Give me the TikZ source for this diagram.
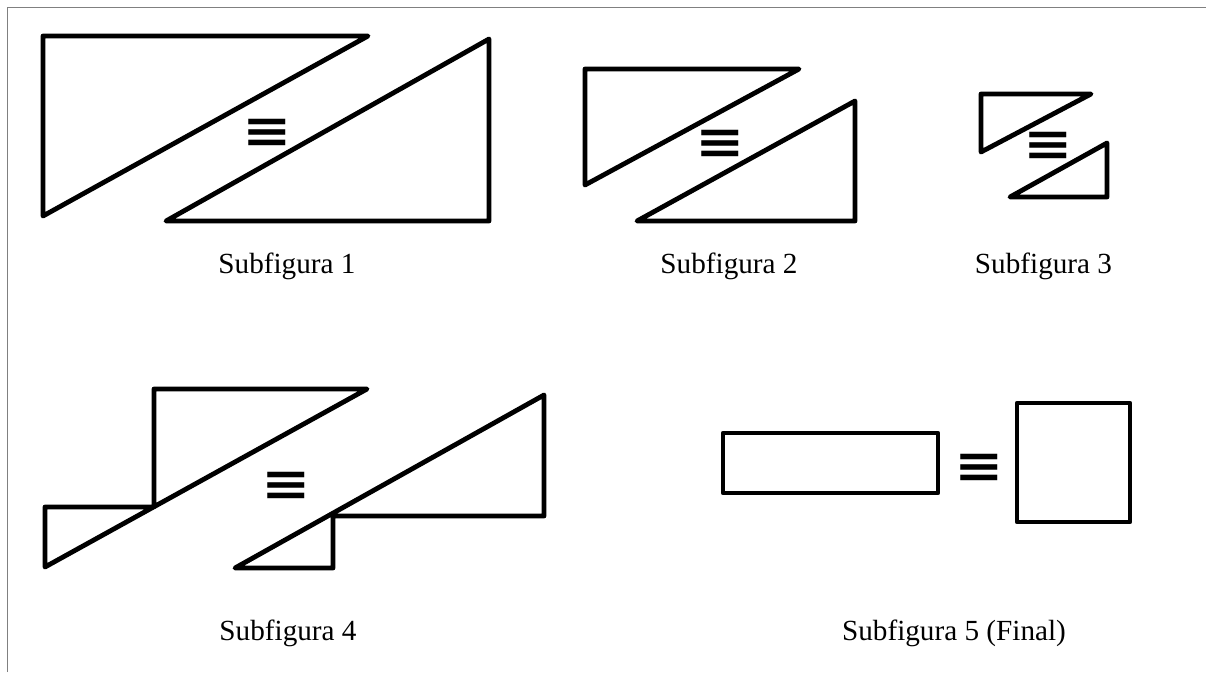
\documentclass[tikz,border=0pt]{standalone}
\usepackage{fontspec}
\setmainfont{Liberation Serif}
\newfontfamily\symfont{DejaVu Sans}

\begin{document}
\begin{tikzpicture}[x=1pt,y=-1pt,
  piece/.style={line width=4.8pt,line join=round,line cap=round},
  caption/.style={font=\fontsize{29.2}{35}\selectfont,anchor=base},
  equivsign/.style={font=\symfont\bfseries\fontsize{48}{48}\selectfont,inner sep=0pt,yshift=-2pt}]
  \useasboundingbox (0,0) rectangle (1206,672);
  \draw[gray,line width=1pt] (7,672) -- (7,7) -- (1206,7);

  \draw[piece] (43,36) -- (368,36) -- (43,216) -- cycle;
  \draw[piece] (489,39) -- (489,221) -- (166,221) -- cycle;
  \node[equivsign] (eq1) at (267,131) {\scalebox{1.23}[1]{≡}};
  \node[caption] (cap1) at (287,273) {Subfigura 1};

  \draw[piece] (585,69) -- (799,69) -- (585,185) -- cycle;
  \draw[piece] (855,101) -- (855,221) -- (637,221) -- cycle;
  \node[equivsign] (eq2) at (720,142) {\scalebox{1.23}[1]{≡}};
  \node[caption] (cap2) at (729,273) {Subfigura 2};

  \draw[piece] (981,94) -- (1091,94) -- (981,152) -- cycle;
  \draw[piece] (1107,143) -- (1107,197) -- (1010,197) -- cycle;
  \node[equivsign] (eq3) at (1048,144) {\scalebox{1.23}[1]{≡}};
  \node[caption] (cap3) at (1043.5,273) {Subfigura 3};

  \draw[piece] (154,389) -- (367,389) -- (45,567) -- (45,507) -- (154,507) -- cycle;
  \draw[piece] (544,395) -- (544,516) -- (333,516) -- (333,568) -- (235,568) -- cycle;
  \node[equivsign] (eq4) at (286.5,484) {\scalebox{1.23}[1]{≡}};
  \node[caption] (cap4) at (288,640) {Subfigura 4};

  \draw[piece] (723,433) rectangle (938,493);
  \draw[piece] (1017,403) rectangle (1130,522);
  \node[equivsign] (eq5) at (979,466) {\scalebox{1.23}[1]{≡}};
  \node[caption] (cap5) at (954,640) {Subfigura 5 (Final)};
\end{tikzpicture}
\end{document}
